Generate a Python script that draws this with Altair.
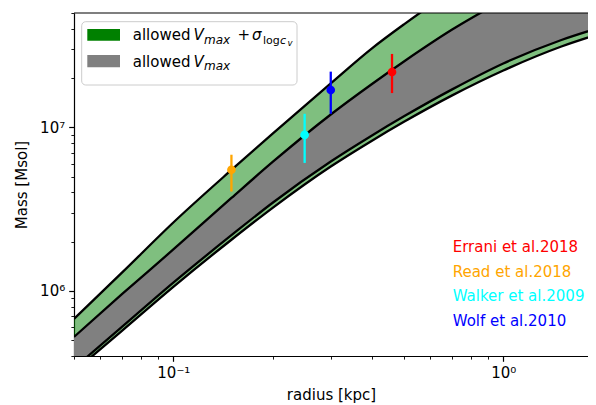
import altair as alt
import pandas as pd

# ---- data ----
radius = [0.05, 0.07, 0.1, 0.15, 0.2, 0.3, 0.4, 0.5, 0.7, 1.0, 1.5, 2.0]
green_upper = [6.74e5, 1.297e6, 2.62e6, 5.49e6, 9.15e6, 1.857e7, 3.04e7, 4.26e7, 6.83e7, 1.066e8, 1.67e8, 2.23e8]
gray_upper = [5.23e5, 9.58e5, 1.792e6, 3.70e6, 6.14e6, 1.198e7, 1.841e7, 2.527e7, 3.96e7, 6.00e7, 9.29e7, 1.23e8]
gray_lower = [3.37e5, 6.04e5, 1.123e6, 2.19e6, 3.46e6, 6.18e6, 8.92e6, 1.167e7, 1.706e7, 2.457e7, 3.42e7, 4.12e7]
green_lower = [3.21e5, 5.72e5, 1.059e6, 2.055e6, 3.22e6, 5.76e6, 8.29e6, 1.081e7, 1.568e7, 2.226e7, 3.12e7, 3.78e7]

obs_names = ["Errani et al.2018", "Read et al.2018", "Walker et al.2009", "Wolf et al.2010"]
obs_colors = ["#ff0000", "#ffa500", "#00ffff", "#0000ff"]
obs_radius = [0.46, 0.15, 0.25, 0.30]
obs_mass = [2.18e7, 5.5e6, 9.0e6, 1.69e7]
obs_low = [1.62e7, 4.05e6, 6.06e6, 1.21e7]
obs_high = [2.81e7, 6.8e6, 1.21e7, 2.19e7]

x_ticks = [0.05, 0.06, 0.07, 0.08, 0.09, 0.1, 0.2, 0.3, 0.4, 0.5, 0.6, 0.7, 0.8, 0.9, 1.0]
y_ticks = [4e5, 5e5, 6e5, 7e5, 8e5, 9e5, 1e6, 2e6, 3e6, 4e6, 5e6, 6e6, 7e6, 8e6, 9e6,
           1e7, 2e7, 3e7, 4e7, 5e7]

legend_labels = ["allowed", "allowed"]

FONT = "DejaVu Sans"
W, H = 514, 343

curves = pd.DataFrame({"r": radius, "A": green_upper, "B": gray_upper,
                       "C": gray_lower, "D": green_lower})
obs = pd.DataFrame({"name": obs_names, "r": obs_radius, "m": obs_mass,
                    "lo": obs_low, "hi": obs_high})

xscale = alt.Scale(type="log", domain=[0.05, 1.806], nice=False)
yscale = alt.Scale(type="log", domain=[4e5, 5e7], nice=False)

xmajor = "datum.value == 0.1 || datum.value == 1"
ymajor = "datum.value == 1000000 || datum.value == 10000000"

xaxis = alt.Axis(
    values=x_ticks,
    labelExpr="datum.value == 0.1 ? '10⁻¹' : (datum.value == 1 ? '10⁰' : '')",
    tickSize={"condition": {"test": xmajor, "value": 5.3}, "value": 3.1},
    tickWidth={"condition": {"test": xmajor, "value": 1.2}, "value": 0.9},
    tickColor="black", domainColor="black", domainWidth=1.2,
    labelFont=FONT, labelFontSize=15, labelColor="black", labelPadding=4,
    labelOverlap=False, labelFlush=False, labelBound=False,
    title="radius [kpc]", titleFont=FONT, titleFontSize=15,
    titleFontWeight="normal", titleColor="black", titlePadding=7, grid=False,
)
yaxis = alt.Axis(
    values=y_ticks,
    labelExpr="datum.value == 1000000 ? '10⁶' : (datum.value == 10000000 ? '10⁷' : '')",
    tickSize={"condition": {"test": ymajor, "value": 5.3}, "value": 3.1},
    tickWidth={"condition": {"test": ymajor, "value": 1.2}, "value": 0.9},
    tickColor="black", domainColor="black", domainWidth=1.2,
    labelFont=FONT, labelFontSize=15, labelColor="black", labelPadding=4,
    labelOverlap=False, labelFlush=False, labelBound=False,
    title="Mass [Msol]", titleFont=FONT, titleFontSize=15,
    titleFontWeight="normal", titleColor="black", titlePadding=10, grid=False,
)


def X(field="r"):
    return alt.X(f"{field}:Q", scale=xscale, axis=xaxis)


def Y(field):
    return alt.Y(f"{field}:Q", scale=yscale, axis=yaxis)


base = alt.Chart(curves)
green_band = base.mark_area(color="#008000", opacity=0.5, clip=True,
                            interpolate="monotone").encode(x=X(), y=Y("D"), y2="A:Q")
gray_band = base.mark_area(color="#808080", opacity=1, clip=True,
                           interpolate="monotone").encode(x=X(), y=Y("C"), y2="B:Q")
lines = [base.mark_line(color="black", strokeWidth=2.3, clip=True,
                        interpolate="monotone").encode(x=X(), y=Y(c))
         for c in ["A", "B", "C", "D"]]

color_enc = alt.Color("name:N", scale=alt.Scale(domain=obs_names, range=obs_colors),
                      legend=None)
obs_base = alt.Chart(obs)
err = obs_base.mark_rule(strokeWidth=2.3).encode(x=X(), y=Y("lo"), y2="hi:Q", color=color_enc)
pts = obs_base.mark_circle(size=75, opacity=1).encode(x=X(), y=Y("m"), color=color_enc)

# top spine
one = pd.DataFrame({"k": [0]})
top_spine = alt.Chart(one).mark_rule(color="black", strokeWidth=1.2).encode(
    x=alt.value(0), x2=alt.value(W), y=alt.value(0))

# reference labels on the right
ref_labels = []
for i, (n, c) in enumerate(zip(obs_names, obs_colors)):
    ref_labels.append(
        alt.Chart(pd.DataFrame({"t": [n]})).mark_text(
            align="left", baseline="middle", font=FONT, fontSize=15, color=c
        ).encode(text="t:N", x=alt.value(378.7), y=alt.value(234.3 + 24.5 * i))
    )

# legend
legend_box = alt.Chart(one).mark_rect(
    fill="white", fillOpacity=0.8, stroke="#cccccc", strokeWidth=1, cornerRadius=4
).encode(x=alt.value(7.7), x2=alt.value(223), y=alt.value(8.7), y2=alt.value(72))
patch_green = alt.Chart(one).mark_rect(fill="#008000").encode(
    x=alt.value(13.3), x2=alt.value(46), y=alt.value(16), y2=alt.value(27.7))
patch_gray = alt.Chart(one).mark_rect(fill="#808080").encode(
    x=alt.value(13.3), x2=alt.value(46), y=alt.value(42), y2=alt.value(54.3))


def txt(s, x, y, size=15, style="normal"):
    return alt.Chart(pd.DataFrame({"t": [s]})).mark_text(
        align="left", baseline="alphabetic", font=FONT, fontSize=size,
        fontStyle=style, color="black"
    ).encode(text="t:N", x=alt.value(x), y=alt.value(y))


r1, r2 = 27.3, 53.6
legend_text = [
    txt(legend_labels[0], 58.7, r1),
    txt("V", 119.5, r1, style="italic"),
    txt("max", 130, r1 + 3.5, size=12, style="italic"),
    txt("+", 163.5, r1),
    txt("σ", 178, r1, style="italic"),
    txt("log", 189, r1 + 3.5, size=11),
    txt("c", 206, r1 + 3.5, size=11, style="italic"),
    txt("v", 213.5, r1 + 6, size=8.5, style="italic"),
    txt(legend_labels[1], 58.7, r2),
    txt("V", 119.5, r2, style="italic"),
    txt("max", 130, r2 + 3.5, size=12, style="italic"),
]

chart = alt.layer(
    green_band, gray_band, *lines, err, pts, top_spine, *ref_labels,
    legend_box, patch_green, patch_gray, *legend_text
).properties(
    width=W, height=H,
    autosize=alt.AutoSizeParams(type="none"),
    padding={"left": 66, "top": 5, "right": 0, "bottom": 48},
    background="white",
).configure_view(stroke=None)

chart.save("out.html", embed_options={"renderer": "svg", "actions": False})
